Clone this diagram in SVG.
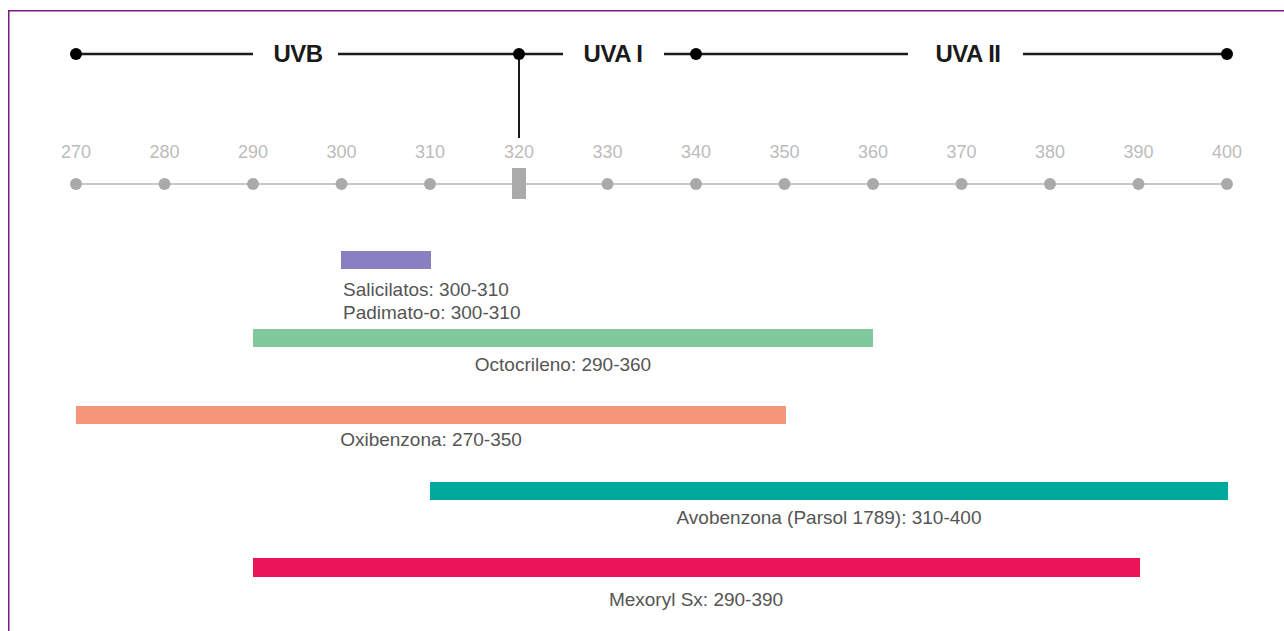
<svg xmlns="http://www.w3.org/2000/svg" width="1284" height="631" viewBox="0 0 1284 631">
<style>
.frame{fill:none;stroke:#7a1a82;stroke-width:1.5}
.top{stroke:#1a1a1a;stroke-width:2.5;fill:none}
.tdot{fill:#000}
.band{font-family:"Liberation Sans",Arial,sans-serif;font-weight:bold;font-size:24px;fill:#1a1a1a;text-anchor:middle;letter-spacing:-0.5px}
.axis{stroke:#c8c8c8;stroke-width:2}
.adot{fill:#aaaaaa}
.tick{font-family:"Liberation Sans",Arial,sans-serif;font-size:18px;fill:#bcbcbc;text-anchor:middle}
.lbl{font-family:"Liberation Sans",Arial,sans-serif;font-size:19px;fill:#555555}
.c{text-anchor:middle}
</style>
<rect width="1284" height="631" fill="#ffffff"/>
<path class="frame" d="M8.75,640 V10.75 H1290"/>
<g id="bands">
<g class="top">
<line x1="76" y1="54" x2="253" y2="54"/>
<line x1="338" y1="54" x2="563" y2="54"/>
<line x1="664" y1="54" x2="908" y2="54"/>
<line x1="1023" y1="54" x2="1227" y2="54"/>
<line x1="519" y1="54" x2="519" y2="138" stroke-width="2"/>
</g>
<circle class="tdot" cx="76" cy="54" r="6"/>
<circle class="tdot" cx="519" cy="54" r="6"/>
<circle class="tdot" cx="696" cy="54" r="6"/>
<circle class="tdot" cx="1227" cy="54" r="6"/>
<text class="band" x="298" y="62">UVB</text>
<text class="band" x="613" y="62">UVA I</text>
<text class="band" x="968" y="62">UVA II</text>
</g>
<g id="axis">
<line class="axis" x1="76" y1="184" x2="1227" y2="184"/>
<circle class="adot" cx="76" cy="184" r="6"/>
<circle class="adot" cx="164.5" cy="184" r="6"/>
<circle class="adot" cx="253" cy="184" r="6"/>
<circle class="adot" cx="341.5" cy="184" r="6"/>
<circle class="adot" cx="430" cy="184" r="6"/>
<rect class="adot" x="512" y="168" width="14" height="31"/>
<circle class="adot" cx="607.5" cy="184" r="6"/>
<circle class="adot" cx="696" cy="184" r="6"/>
<circle class="adot" cx="784.5" cy="184" r="6"/>
<circle class="adot" cx="873" cy="184" r="6"/>
<circle class="adot" cx="961.5" cy="184" r="6"/>
<circle class="adot" cx="1050" cy="184" r="6"/>
<circle class="adot" cx="1138.5" cy="184" r="6"/>
<circle class="adot" cx="1227" cy="184" r="6"/>
<text class="tick" x="76" y="158">270</text>
<text class="tick" x="164.5" y="158">280</text>
<text class="tick" x="253" y="158">290</text>
<text class="tick" x="341.5" y="158">300</text>
<text class="tick" x="430" y="158">310</text>
<text class="tick" x="519" y="158">320</text>
<text class="tick" x="607.5" y="158">330</text>
<text class="tick" x="696" y="158">340</text>
<text class="tick" x="784.5" y="158">350</text>
<text class="tick" x="873" y="158">360</text>
<text class="tick" x="961.5" y="158">370</text>
<text class="tick" x="1050" y="158">380</text>
<text class="tick" x="1138.5" y="158">390</text>
<text class="tick" x="1227" y="158">400</text>
</g>
<g id="salicilatos">
<rect x="341" y="251" width="90" height="18" fill="#8880c0"/>
<text class="lbl" x="343" y="296">Salicilatos: 300-310</text>
<text class="lbl" x="343" y="319">Padimato-o: 300-310</text>
</g>
<g id="octocrileno">
<rect x="253" y="329" width="620" height="18" fill="#80c99c"/>
<text class="lbl c" x="563" y="371">Octocrileno: 290-360</text>
</g>
<g id="oxibenzona">
<rect x="76" y="406" width="710" height="18" fill="#f4967a"/>
<text class="lbl c" x="431" y="446">Oxibenzona: 270-350</text>
</g>
<g id="avobenzona">
<rect x="430" y="482" width="798" height="18" fill="#00a99d"/>
<text class="lbl c" x="829" y="524">Avobenzona (Parsol 1789): 310-400</text>
</g>
<g id="mexoryl">
<rect x="253" y="558" width="887" height="19" fill="#ec1459"/>
<text class="lbl c" x="696" y="606">Mexoryl Sx: 290-390</text>
</g>
</svg>
